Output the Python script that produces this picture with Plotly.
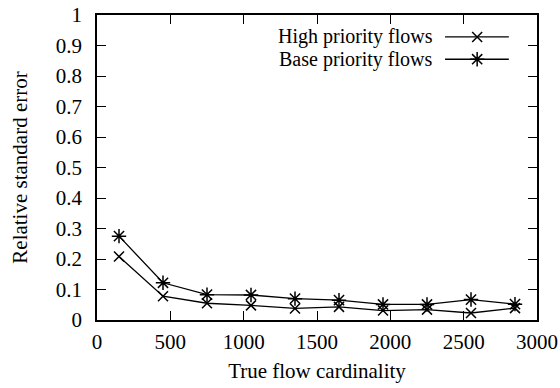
import plotly.graph_objects as go

x_vals = [150, 450, 750, 1050, 1350, 1650, 1950, 2250, 2550, 2850]
high_priority = [0.208, 0.078, 0.055, 0.048, 0.038, 0.043, 0.031, 0.034, 0.023, 0.039]
base_priority = [0.275, 0.122, 0.083, 0.082, 0.070, 0.065, 0.051, 0.051, 0.067, 0.052]
series_names = ["High priority flows", "Base priority flows"]
x_ticks = [0, 500, 1000, 1500, 2000, 2500, 3000]
y_ticks = [0, 0.1, 0.2, 0.3, 0.4, 0.5, 0.6, 0.7, 0.8, 0.9, 1]

FONT = "Liberation Serif"
FS = 21
line = dict(color="black", width=1.3)

fig = go.Figure()
fig.add_trace(go.Scatter(x=x_vals, y=high_priority, mode="lines+markers", name=series_names[0],
                         line=line,
                         marker=dict(symbol="x-thin-open", size=10, color="black", line=dict(width=1.5, color="black"))))
fig.add_trace(go.Scatter(x=x_vals, y=base_priority, mode="lines+markers", name=series_names[1],
                         line=line,
                         marker=dict(symbol="asterisk-open", size=12, color="black", line=dict(width=1.5, color="black"))))

# legend samples (gnuplot style: text on the left, sample on the right)
leg_y = [0.928, 0.855]
symbols = [("x-thin-open", 10), ("asterisk-open", 12)]
for i, name in enumerate(series_names):
    fig.add_trace(go.Scatter(x=[0.791, 0.936], y=[leg_y[i]] * 2, mode="lines", line=line,
                             xaxis="x2", yaxis="y2", showlegend=False, hoverinfo="skip"))
    fig.add_trace(go.Scatter(x=[0.864], y=[leg_y[i]], mode="markers",
                             marker=dict(symbol=symbols[i][0], size=symbols[i][1], color="black",
                                         line=dict(width=1.5, color="black")),
                             xaxis="x2", yaxis="y2", showlegend=False, hoverinfo="skip"))
    fig.add_annotation(x=0.765, y=leg_y[i], xref="x2", yref="y2", text=name, showarrow=False,
                       xanchor="right", yanchor="middle", borderpad=0,
                       font=dict(family=FONT, size=20, color="black"))

axis_common = dict(showgrid=False, zeroline=False, showline=True, linecolor="black", linewidth=1.5,
                   mirror="ticks", ticks="inside", ticklen=9, tickwidth=1.2, tickcolor="black",
                   automargin=False,
                   tickfont=dict(family=FONT, size=FS, color="black"))

fig.update_layout(
    width=560, height=388,
    margin=dict(l=97, r=23, t=15, b=68),
    paper_bgcolor="white", plot_bgcolor="white",
    showlegend=False,
    xaxis=dict(range=[0, 3000], tickvals=x_ticks, ticktext=[str(v) for v in x_ticks],
               ticklabelstandoff=2,
               title=dict(text="True flow cardinality", font=dict(family=FONT, size=FS, color="black"), standoff=10),
               **axis_common),
    yaxis=dict(range=[0, 1], tickvals=y_ticks, ticktext=["0" if v == 0 else ("1" if v == 1 else f"{v:g}") for v in y_ticks],
               ticklabelstandoff=9,
               title=dict(text="Relative standard error", font=dict(family=FONT, size=FS, color="black"), standoff=22),
               **axis_common),
    xaxis2=dict(range=[0, 1], overlaying="x", visible=False, fixedrange=True, automargin=False),
    yaxis2=dict(range=[0, 1], overlaying="y", visible=False, fixedrange=True, automargin=False),
)

fig.write_html("out.html")
